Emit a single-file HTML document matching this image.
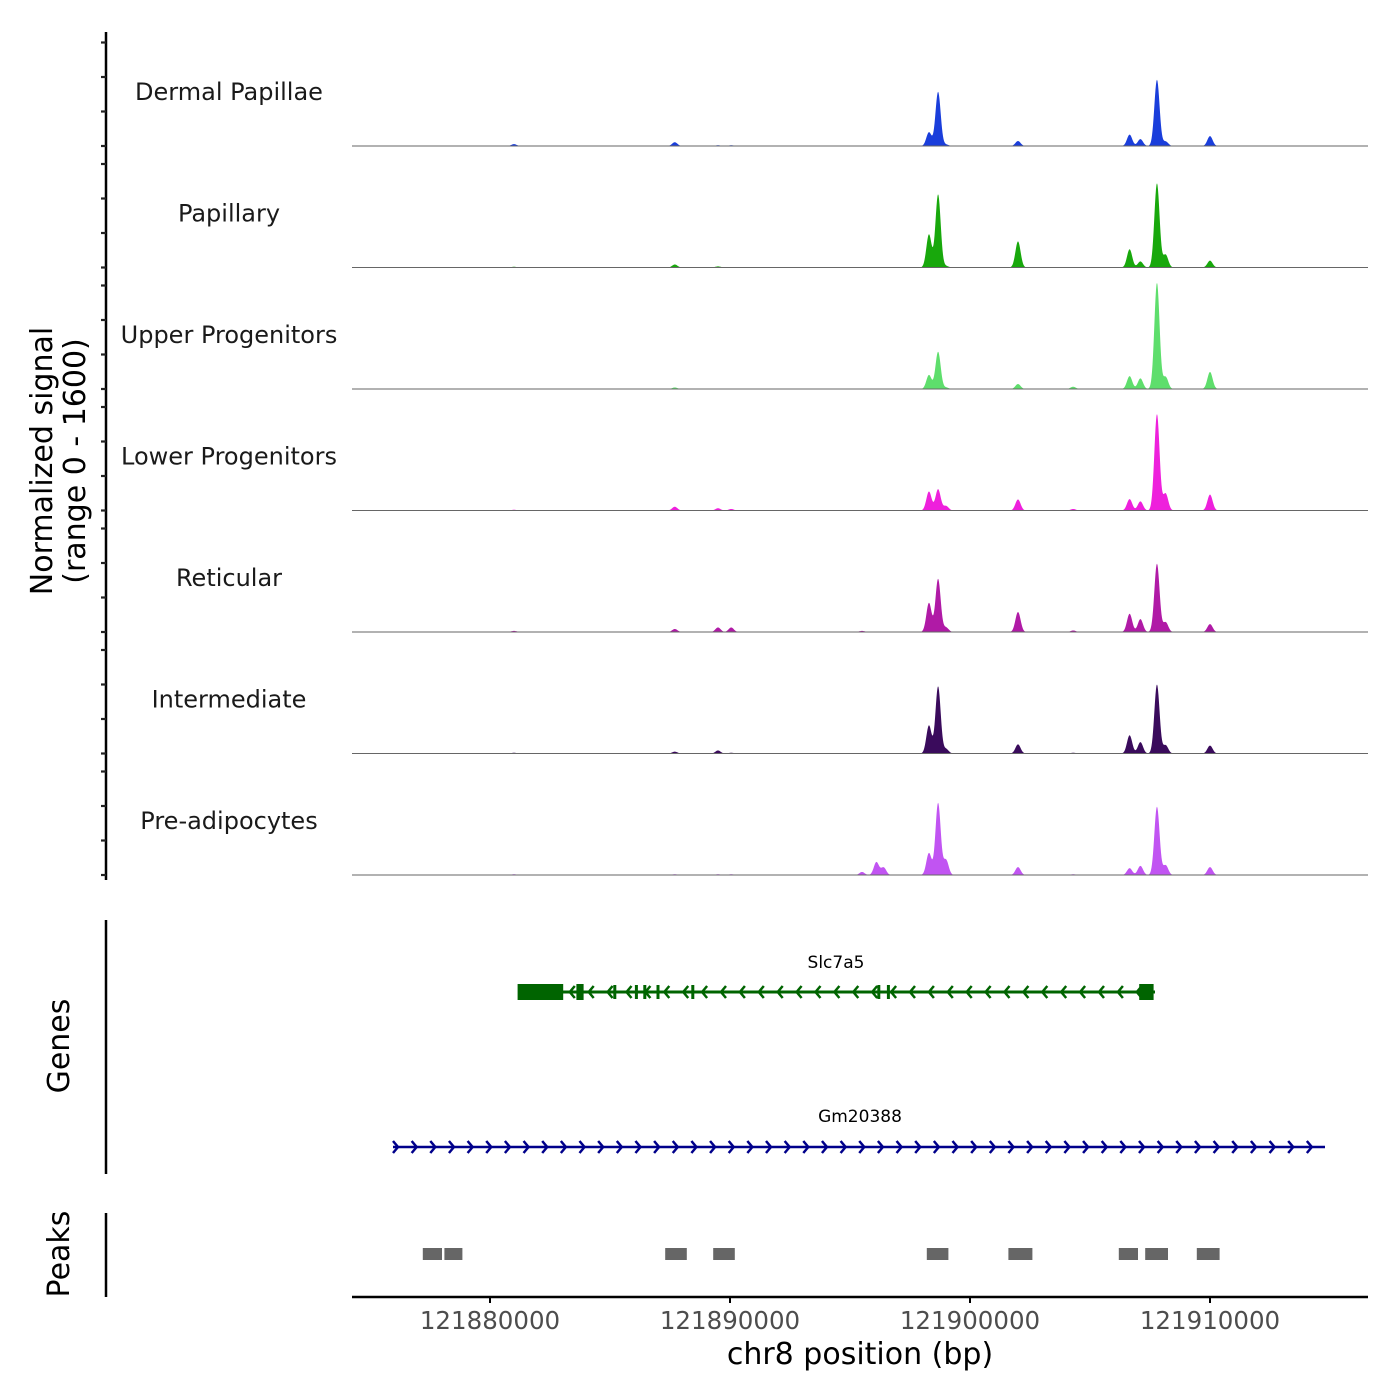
<!DOCTYPE html>
<html><head><meta charset="utf-8"><style>
body{margin:0;background:#fff}
svg{display:block;font-family:"DejaVu Sans","Liberation Sans",sans-serif}
</style></head><body>
<svg id="c" width="1400" height="1400" viewBox="0 0 1400 1400" xmlns="http://www.w3.org/2000/svg"></svg>
<script>
const trackNames = ["Dermal Papillae","Papillary","Upper Progenitors","Lower Progenitors","Reticular","Intermediate","Pre-adipocytes"];
const trackColors = ["#1a3edb","#18a80c","#5ede6c","#ee20dc","#b01aa6","#3a0b5c","#c154f2"];
const peakCenters = [121881000,121887700,121889500,121890050,121895500,121896100,121896400,121898290,121898670,121899000,121902000,121904300,121906650,121907100,121907790,121908150,121910000];
const peakHeights = [
 [27,55,11,11,0,0,0,200,785,22,72,5,165,100,960,66,143],
 [11,44,16,0,0,0,0,480,1060,22,378,0,264,88,1220,187,99],
 [5,22,5,0,0,0,0,203,540,22,72,33,187,154,1540,176,247],
 [11,55,33,22,0,0,0,275,308,66,160,22,165,132,1397,247,231],
 [16,44,66,66,16,0,0,423,770,66,290,22,264,187,990,143,115],
 [11,27,44,11,0,0,0,407,973,66,132,11,264,165,1000,121,115],
 [11,11,11,11,44,187,110,319,1045,220,115,11,99,132,990,143,115]
];
const xTicks = [121880000,121890000,121900000,121910000];
const yTickVals = [0,500,1000,1500];
const peakRegions = [[121877200,121878000],[121878100,121878850],[121887300,121888200],[121889300,121890200],[121898200,121899100],[121901600,121902600],[121906200,121907000],[121907300,121908250],[121909450,121910400]];
const slcExonsThick = [[121881150,121883050],[121883600,121883900],[121907050,121907650]];
const slcThin = [121885200,121886100,121886450,121887000,121888450,121896200,121896600];

const svg=document.getElementById('c');
const NS="http://www.w3.org/2000/svg";
function mk(t,a,p){const e=document.createElementNS(NS,t);for(const k in a)e.setAttribute(k,a[k]);(p||svg).appendChild(e);return e;}
const x0=352,x1=1368,gx=p=>490+(p-121880000)*0.024;
const trackH=121.5, base0=146;
const ys=v=>v*(110.4/1600);

// left axis
let ax=mk('line',{x1:106,y1:32,x2:106,y2:880,stroke:'#000','stroke-width':2.5});

let yt=mk('text',{transform:'translate(52,461) rotate(-90)','text-anchor':'middle','font-size':30,fill:'#000'});

let s1=mk('tspan',{x:0,dy:0},yt);s1.textContent='Normalized signal';
let s2=mk('tspan',{x:0,dy:33},yt);s2.textContent='(range 0 - 1600)';

trackNames.forEach((nm,i)=>{
 const base=base0+i*trackH;
 yTickVals.forEach(v=>{const t=mk('line',{x1:101,y1:base-ys(v),x2:106,y2:base-ys(v),stroke:'#222','stroke-width':2.2});
  });
 const g=mk('g',{});
 const lb=mk('text',{x:229,y:base-46,'text-anchor':'middle','font-size':24,fill:'#1a1a1a'},g);lb.textContent=nm;
 
 let d='M'+x0+','+base;
 for(let x=x0;x<=x1;x+=0.5){let v=0;
  peakCenters.forEach((c,k)=>{const dx=(x-gx(c))/2.6;v+=peakHeights[i][k]*Math.exp(-dx*dx/2);});
  d+=' L'+x+','+(base-ys(v)).toFixed(2);}
 d+=' L'+x1+','+base+' Z';
 const p=mk('path',{d:d,fill:trackColors[i]},g);
 const bl=mk('line',{x1:x0,y1:base,x2:x1,y2:base,stroke:'#666','stroke-width':1},g);
 
});

// genes
let ga=mk('line',{x1:106,y1:920,x2:106,y2:1174,stroke:'#000','stroke-width':2.5});
let gt=mk('text',{transform:'translate(69,1046) rotate(-90)','text-anchor':'middle','font-size':30});gt.textContent='Genes';
const slc=mk('g',{});
const gc='#006400';
mk('line',{x1:518,y1:992,x2:1155,y2:992,stroke:gc,'stroke-width':3},slc);
for(let x=532;x<1140;x+=18.9){mk('polyline',{points:(x+5)+',986 '+x+',992 '+(x+5)+',998',fill:'none',stroke:gc,'stroke-width':2.5},slc);}
slcExonsThick.forEach(e=>mk('rect',{x:gx(e[0]),y:984,width:gx(e[1])-gx(e[0]),height:16,fill:gc},slc));
slcThin.forEach(p=>mk('rect',{x:gx(p)-1.5,y:985,width:3,height:14,fill:gc},slc));
let sl=mk('text',{x:836,y:968,'text-anchor':'middle','font-size':17},slc);sl.textContent='Slc7a5';
const gm=mk('g',{});
const bc='#00008b';
mk('line',{x1:393,y1:1147,x2:1325,y2:1147,stroke:bc,'stroke-width':2.5},gm);
for(let x=398;x<1326;x+=18.65){mk('polyline',{points:(x-5)+',1141 '+x+',1147 '+(x-5)+',1153',fill:'none',stroke:bc,'stroke-width':2.5},gm);}
let gl=mk('text',{x:860,y:1122,'text-anchor':'middle','font-size':17},gm);gl.textContent='Gm20388';

// peaks
let pa=mk('line',{x1:106,y1:1213,x2:106,y2:1297,stroke:'#000','stroke-width':2.5});
let pt=mk('text',{transform:'translate(69,1254) rotate(-90)','text-anchor':'middle','font-size':30});pt.textContent='Peaks';
peakRegions.forEach(r=>{const e=mk('rect',{x:gx(r[0]),y:1248,width:gx(r[1])-gx(r[0]),height:12,fill:'#666'});
 });

// x axis
let xa=mk('line',{x1:x0,y1:1297,x2:x1,y2:1297,stroke:'#000','stroke-width':2.5});
xTicks.forEach(t=>{mk('line',{x1:gx(t),y1:1297,x2:gx(t),y2:1303,stroke:'#000','stroke-width':2});
 const l=mk('text',{x:gx(t),y:1329,'text-anchor':'middle','font-size':24.5,fill:'#4d4d4d'});l.textContent=t;
 });
let xt=mk('text',{x:860,y:1364,'text-anchor':'middle','font-size':30});xt.textContent='chr8 position (bp)';

</script>
</body></html>
